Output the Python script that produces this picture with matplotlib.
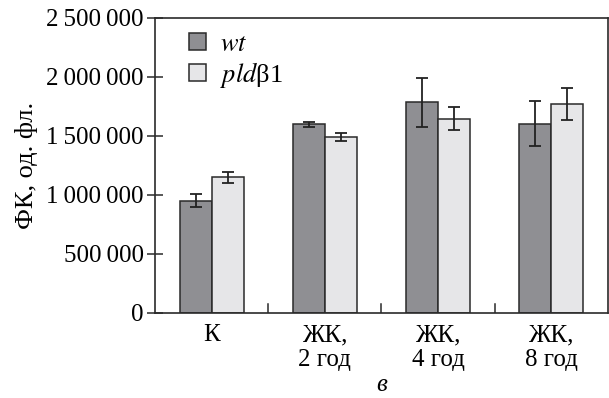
import numpy as np
import matplotlib.pyplot as plt
from matplotlib.ticker import FuncFormatter

plt.rcParams['font.family'] = 'serif'
plt.rcParams['font.serif'] = ['Liberation Serif', 'DejaVu Serif']
plt.rcParams['mathtext.fontset'] = 'stix'

categories = ['К', 'ЖК,\n2 год', 'ЖК,\n4 год', 'ЖК,\n8 год']
wt = [950000, 1600000, 1785000, 1605000]
wt_err = [55000, 21000, 205000, 190000]
pld = [1150000, 1490000, 1648000, 1772000]
pld_err = [47000, 32000, 95000, 133000]

fig = plt.figure(figsize=(6.09, 3.98), dpi=100)
ax = fig.add_axes([0.2545, 0.2136, 0.7435, 0.7412])

x = np.arange(len(categories))
w = 0.283
edge = '#2a2a2a'
ekw = dict(ecolor='#222222', elinewidth=1.3, capsize=4.5, capthick=1.3)
ax.bar(x - w/2, wt, w, yerr=wt_err, color='#8f8f93', edgecolor=edge, linewidth=1.1,
       error_kw=ekw, label='$\\mathit{wt}$')
ax.bar(x + w/2, pld, w, yerr=pld_err, color='#e6e6e8', edgecolor=edge, linewidth=1.1,
       error_kw=ekw, label='$\\mathit{pld}$β1')

ax.set_xlim(-0.5, 3.5)
ax.set_ylim(0, 2500000)
ax.set_yticks(np.arange(0, 2500001, 500000))
ax.yaxis.set_major_formatter(FuncFormatter(lambda v, p: f'{int(v):,}'.replace(',', '\u2009')))
ax.tick_params(axis='y', direction='inout', length=12, width=1.1, labelsize=18, pad=2, color=edge)

ax.set_xticks(x)
ax.set_xticklabels(categories, fontsize=18, linespacing=1.2)
ax.tick_params(axis='x', length=0, pad=8)
for b in [0.5, 1.5, 2.5]:
    ax.axvline(b, ymin=0, ymax=0.03, color=edge, lw=1.1)

for s in ax.spines.values():
    s.set_linewidth(1.2)
    s.set_color(edge)

ax.set_ylabel('ФК, од. фл.', fontsize=19, labelpad=6)
ax.set_xlabel('в', fontsize=18, style='italic', labelpad=2)

ax.legend(loc='upper left', frameon=False, fontsize=19, handlelength=0.62, handleheight=0.62,
          handletextpad=0.55, labelspacing=0.15, borderpad=0.2, borderaxespad=0.3,
          bbox_to_anchor=(0.047, 0.993))

plt.savefig('out.png', dpi=100)
